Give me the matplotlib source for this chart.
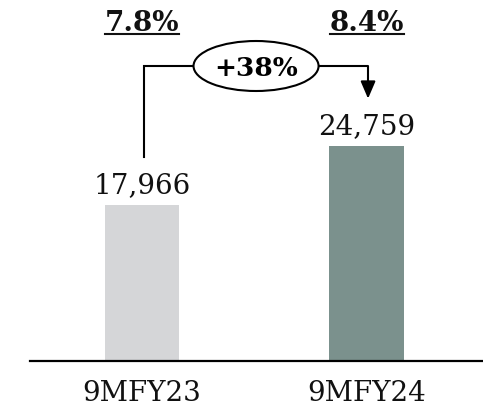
"""Nine-month revenue comparison, 9MFY23 vs 9MFY24, with margin and growth callouts."""

import matplotlib.pyplot as plt
from matplotlib.lines import Line2D
from matplotlib.patches import Ellipse

periods = ["9MFY23", "9MFY24"]
values = [17966, 24759]
value_labels = ["17,966", "24,759"]
margins = ["7.8%", "8.4%"]
growth = "+38%"

BAR_COLORS = ("#d5d6d8", "#7b918d")
FONT = "DejaVu Serif"
INK = "#111111"

W, H = 483, 407
AX_BOTTOM_PX = 46          # axis line distance from the bottom edge
AX_LEFT_PX = 30
YTOP = 41500               # value at the top edge of the figure


def main() -> None:
    fig = plt.figure(figsize=(W / 100, H / 100), dpi=100)
    fig.patch.set_facecolor("white")
    ax = fig.add_axes([AX_LEFT_PX / W, AX_BOTTOM_PX / H,
                       1 - AX_LEFT_PX / W, 1 - AX_BOTTOM_PX / H])
    ax.set_xlim(-0.498, 1.516)
    ax.set_ylim(0, YTOP)
    px = YTOP / (H - AX_BOTTOM_PX)   # value units per pixel

    xs = list(range(len(values)))
    ax.bar(xs, values, width=0.333, color=BAR_COLORS, zorder=2)

    for x, v, lab in zip(xs, values, value_labels):
        ax.text(x, v + 12 * px, lab, ha="center", va="baseline",
                fontsize=20, family=FONT, color=INK)

    for s in ("top", "right", "left"):
        ax.spines[s].set_visible(False)
    ax.spines["bottom"].set_linewidth(1.6)
    ax.set_yticks([])
    ax.set_xticks(xs)
    ax.set_xticklabels(periods, family=FONT, fontsize=20, color=INK)
    ax.tick_params(axis="x", length=0, pad=14)

    # growth bracket: up from the first bar, across, and down onto the second
    level = 295 * px
    start = values[0] + 48 * px
    tip = values[1] + 47 * px
    ex, ew, eh = 0.507, 0.556, 50 * px
    ax.plot([0.01, 0.01, ex - ew / 2], [start, level, level],
            color="black", lw=1.5, solid_joinstyle="miter", clip_on=False)
    ax.annotate("", xy=(1.005, tip), xytext=(ex + ew / 2, level),
                arrowprops=dict(arrowstyle="-|>,head_width=0.45,head_length=1.05",
                                connectionstyle="angle,angleA=0,angleB=90,rad=0",
                                color="black", lw=1.5, shrinkA=0, shrinkB=0))
    ax.add_patch(Ellipse((ex, level), ew, eh, facecolor="white",
                         edgecolor="black", lw=1.5, zorder=3, clip_on=False))
    ax.text(ex, level, growth, ha="center", va="center_baseline", fontsize=19,
            fontweight="bold", family=FONT, zorder=4)

    # underlined margin figures along the top
    fig.canvas.draw()
    renderer = fig.canvas.get_renderer()
    y_line = (H - 34) / H
    for x, m in zip(xs, margins):
        t = ax.text(x, YTOP - 31 * px, m, ha="center", va="baseline",
                    fontsize=20, fontweight="bold", family=FONT, color=INK,
                    clip_on=False)
        bb = t.get_window_extent(renderer)
        fig.add_artist(Line2D([bb.x0 / W, bb.x1 / W], [y_line, y_line],
                              color=INK, lw=1.5))

    fig.savefig("out.png", dpi=100)


if __name__ == "__main__":
    main()
